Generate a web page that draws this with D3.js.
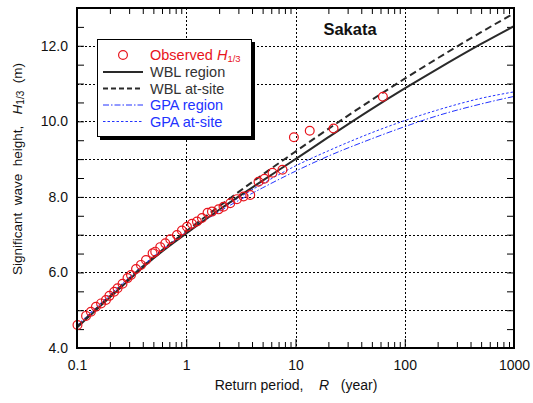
<!DOCTYPE html>
<html>
<head>
<meta charset="utf-8">
<script src="https://cdn.jsdelivr.net/npm/d3@7"></script>
<style>
  html, body { margin: 0; padding: 0; background: #fff; }
  svg { display: block; font-family: "Liberation Sans", Arial, sans-serif; }
</style>
</head>
<body>
<svg id="chart" width="533" height="403"></svg>
<script>
// Observed annual-maximum wave heights at Sakata (plotting positions)
const obsR = [0.101, 0.121, 0.134, 0.149, 0.166, 0.184, 0.198, 0.219, 0.235, 0.261,
              0.290, 0.312, 0.347, 0.385, 0.428, 0.492, 0.520, 0.578, 0.643, 0.714,
              0.822, 0.913, 1.015, 1.128, 1.253, 1.392, 1.566, 1.718, 1.975, 2.193,
              2.527, 2.91, 3.343, 3.851, 4.585, 5.20, 6.16, 7.60, 9.67, 13.5, 22.3, 63.1];
const obsH = [4.61, 4.85, 4.96, 5.09, 5.18, 5.27, 5.38, 5.49, 5.58, 5.70,
              5.85, 5.93, 6.09, 6.20, 6.33, 6.51, 6.55, 6.67, 6.77, 6.88,
              6.99, 7.11, 7.21, 7.29, 7.35, 7.44, 7.58, 7.61, 7.67, 7.74,
              7.83, 7.94, 8.01, 8.05, 8.40, 8.48, 8.64, 8.72, 9.58, 9.75, 9.81, 10.65];

// Fitted return-value curves
const curveR    = [0.1, 0.2, 0.5, 1, 2, 5, 10, 20, 50, 100, 200, 500, 1000];
const wblRegion = [4.54, 5.34, 6.37, 7.03, 7.66, 8.43, 9.00, 9.58, 10.33, 10.87, 11.39, 12.05, 12.52];
const wblSite   = [4.56, 5.37, 6.40, 7.09, 7.75, 8.59, 9.20, 9.80, 10.57, 11.13, 11.67, 12.36, 12.86];
const gpaRegion = [4.58, 5.39, 6.40, 7.05, 7.61, 8.24, 8.68, 9.08, 9.54, 9.86, 10.15, 10.46, 10.66];
const gpaSite   = [4.60, 5.41, 6.42, 7.07, 7.65, 8.35, 8.82, 9.22, 9.70, 10.02, 10.30, 10.61, 10.78];

const xTicks = [0.1, 1, 10, 100, 1000];
const xTickLabels = ["0.1", "1", "10", "100", "1000"];
const yTicks = [4, 6, 8, 10, 12];
const yTickLabels = ["4.0", "6.0", "8.0", "10.0", "12.0"];

const svg = d3.select("#chart");
const L = 77, R = 514, T = 8, B = 348;

const x = d3.scaleLog().domain([0.1, 1000]).range([L, R]);
const y = d3.scaleLinear().domain([4, 13]).range([B, T]);

// dotted grid
const grid = svg.append("g").attr("stroke", "#000").attr("stroke-width", 1)
  .attr("stroke-dasharray", "2,2").attr("fill", "none");
d3.range(5, 13).forEach(v => {
  grid.append("line").attr("x1", L).attr("x2", R)
    .attr("y1", Math.round(y(v)) + 0.5).attr("y2", Math.round(y(v)) + 0.5);
});
[1, 10, 100].forEach(v => {
  grid.append("line").attr("y1", T).attr("y2", B)
    .attr("x1", Math.round(x(v)) + 0.5).attr("x2", Math.round(x(v)) + 0.5);
});

// inner ticks: x axis (bottom and top)
const xMinor = d3.range(-1, 3).flatMap(e => d3.range(2, 10).map(m => m * Math.pow(10, e)));
svg.append("g").attr("transform", `translate(0,${B})`)
  .call(d3.axisTop(x).tickValues(xMinor).tickSize(6).tickFormat(""))
  .call(g => g.select(".domain").remove());
svg.append("g").attr("transform", `translate(0,${T})`)
  .call(d3.axisBottom(x).tickValues(xMinor).tickSize(6).tickFormat(""))
  .call(g => g.select(".domain").remove());
svg.append("g").attr("transform", `translate(0,${B})`)
  .call(d3.axisTop(x).tickValues([1, 10, 100]).tickSize(9).tickFormat(""))
  .call(g => g.select(".domain").remove());

// inner ticks: y axis (left and right)
const yMinor = d3.range(4.5, 13, 0.5);
svg.append("g").attr("transform", `translate(${L},0)`)
  .call(d3.axisRight(y).tickValues(yMinor).tickSize(7).tickFormat(""))
  .call(g => g.select(".domain").remove());
svg.append("g").attr("transform", `translate(${R},0)`)
  .call(d3.axisLeft(y).tickValues(yMinor).tickSize(7).tickFormat(""))
  .call(g => g.select(".domain").remove());

// tick labels
svg.append("g").attr("transform", `translate(0,${B})`)
  .call(d3.axisBottom(x).tickValues(xTicks).tickSize(0).tickPadding(12)
    .tickFormat((d, i) => xTickLabels[i]))
  .call(g => g.select(".domain").remove())
  .call(g => g.selectAll("text").attr("font-size", 14).attr("fill", "#111")
    .attr("font-family", "Liberation Sans, Arial, sans-serif"));
svg.append("g").attr("transform", `translate(${L},0)`)
  .call(d3.axisLeft(y).tickValues(yTicks).tickSize(0).tickPadding(9)
    .tickFormat((d, i) => yTickLabels[i]))
  .call(g => g.select(".domain").remove())
  .call(g => g.selectAll("text").attr("font-size", 14).attr("fill", "#111")
    .attr("font-family", "Liberation Sans, Arial, sans-serif"));

// curves
svg.append("clipPath").attr("id", "plotclip").append("rect")
  .attr("x", L).attr("y", T).attr("width", R - L).attr("height", B - T);
const line = vals => d3.line()
  .x((d, i) => x(curveR[i])).y(d => y(d))
  .curve(d3.curveMonotoneX)(vals);
const curves = svg.append("g").attr("clip-path", "url(#plotclip)").attr("fill", "none");
curves.append("path").attr("d", line(gpaRegion))
  .attr("stroke", "#2233ff").attr("stroke-width", 1).attr("stroke-dasharray", "6,2,1.5,2");
curves.append("path").attr("d", line(gpaSite))
  .attr("stroke", "#2233ff").attr("stroke-width", 1).attr("stroke-dasharray", "2.5,2");
curves.append("path").attr("d", line(wblRegion))
  .attr("stroke", "#2a2a2a").attr("stroke-width", 2);
curves.append("path").attr("d", line(wblSite))
  .attr("stroke", "#2a2a2a").attr("stroke-width", 2).attr("stroke-dasharray", "7,4");

// observed points
svg.append("g").selectAll("circle").data(obsR).join("circle")
  .attr("cx", d => x(d)).attr("cy", (d, i) => y(obsH[i]))
  .attr("r", 4.4).attr("fill", "none").attr("stroke", "#e8141c").attr("stroke-width", 1.2);

// frame
svg.append("rect").attr("x", L).attr("y", T).attr("width", R - L).attr("height", B - T)
  .attr("fill", "none").attr("stroke", "#000").attr("stroke-width", 2);

// station name
svg.append("text").attr("x", 350).attr("y", 35).attr("text-anchor", "middle")
  .attr("font-size", 16.5).attr("font-weight", "bold").attr("fill", "#111").text("Sakata");

// legend
const lg = svg.append("g");
lg.append("rect").attr("x", 100).attr("y", 42).attr("width", 155).attr("height", 98).attr("fill", "#000");
lg.append("rect").attr("x", 97.5).attr("y", 39.5).attr("width", 154).attr("height", 97)
  .attr("fill", "#fff").attr("stroke", "#000").attr("stroke-width", 1);
const rows = [55, 72, 88.5, 105, 121.5];
lg.append("circle").attr("cx", 123).attr("cy", rows[0]).attr("r", 4.4)
  .attr("fill", "none").attr("stroke", "#e8141c").attr("stroke-width", 1.2);
const sample = (yy, color, w, dash) => lg.append("line").attr("x1", 103).attr("x2", 143)
  .attr("y1", yy).attr("y2", yy).attr("stroke", color).attr("stroke-width", w)
  .attr("stroke-dasharray", dash);
sample(rows[1], "#2a2a2a", 2, null);
sample(rows[2], "#2a2a2a", 2, "5,3");
sample(rows[3], "#2233ff", 1, "6,2,1.5,2");
sample(rows[4], "#2233ff", 1, "2.5,2");
const lt = lg.append("g").attr("font-size", 14.5);
const t0 = lt.append("text").attr("x", 150).attr("y", rows[0] + 5).attr("fill", "#e8141c");
t0.append("tspan").text("Observed ");
t0.append("tspan").attr("font-style", "italic").text("H");
t0.append("tspan").attr("font-size", 9.5).attr("dy", 2).text("1/3");
lt.append("text").attr("x", 150).attr("y", rows[1] + 5).attr("fill", "#333").text("WBL region");
lt.append("text").attr("x", 150).attr("y", rows[2] + 5).attr("fill", "#333").text("WBL at-site");
lt.append("text").attr("x", 150).attr("y", rows[3] + 5).attr("fill", "#2233ff").text("GPA region");
lt.append("text").attr("x", 150).attr("y", rows[4] + 5).attr("fill", "#2233ff").text("GPA at-site");

// axis titles
const xt = svg.append("text").attr("x", 296).attr("y", 390).attr("text-anchor", "middle")
  .attr("font-size", 14).attr("fill", "#111").attr("xml:space", "preserve");
xt.append("tspan").text("Return period,    ");
xt.append("tspan").attr("font-style", "italic").text("R");
xt.append("tspan").text("   (year)");

const yt = svg.append("text").attr("transform", "translate(22,169) rotate(-90)")
  .attr("text-anchor", "middle").attr("font-size", 13.5).attr("fill", "#111")
  .attr("xml:space", "preserve");
yt.append("tspan").text("Significant  wave  height,   ");
yt.append("tspan").attr("font-style", "italic").text("H");
yt.append("tspan").attr("font-size", 10).attr("dy", 2).text("1/3");
yt.append("tspan").attr("dy", -2).text("  (m)");
</script>
</body>
</html>
